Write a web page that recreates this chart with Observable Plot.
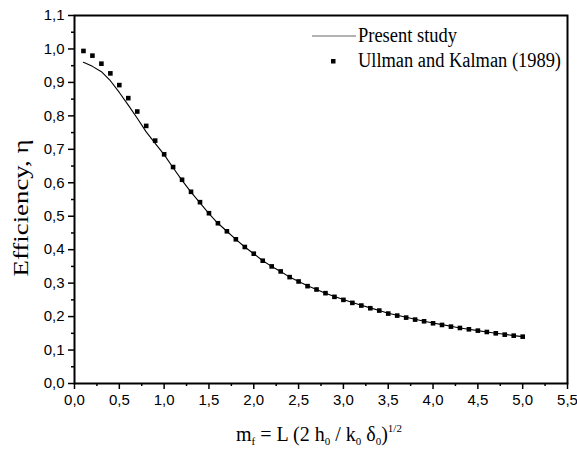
<!DOCTYPE html>
<html><head><meta charset="utf-8">
<script src="https://cdn.jsdelivr.net/npm/d3@7"></script>
<script src="https://cdn.jsdelivr.net/npm/@observablehq/plot@0.6"></script>
<style>body{margin:0;background:#fff}</style>
</head><body><div id="chart"></div>
<script>
// ---- data ----
const mf = [0.1,0.2,0.3,0.4,0.5,0.6,0.7,0.8,0.9,1.0,
            1.1,1.2,1.3,1.4,1.5,1.6,1.7,1.8,1.9,2.0,
            2.1,2.2,2.3,2.4,2.5,2.6,2.7,2.8,2.9,3.0,
            3.1,3.2,3.3,3.4,3.5,3.6,3.7,3.8,3.9,4.0,
            4.1,4.2,4.3,4.4,4.5,4.6,4.7,4.8,4.9,5.0];
const ullmanKalman = [0.994,0.980,0.956,0.927,0.892,0.853,0.813,0.770,0.726,0.685,
                      0.647,0.609,0.573,0.542,0.509,0.479,0.455,0.431,0.408,0.388,
                      0.367,0.350,0.335,0.318,0.305,0.291,0.281,0.270,0.259,0.250,
                      0.241,0.233,0.225,0.218,0.209,0.203,0.197,0.191,0.186,0.180,
                      0.175,0.170,0.166,0.162,0.158,0.154,0.150,0.146,0.143,0.140];
const presentStudy = [0.960,0.948,0.932,0.905,0.870,0.832,0.793,0.752,0.718,0.684,
                      0.645,0.607,0.572,0.540,0.508,0.479,0.455,0.431,0.408,0.388,
                      0.367,0.350,0.335,0.318,0.305,0.292,0.281,0.270,0.260,0.251,
                      0.242,0.234,0.226,0.218,0.210,0.204,0.198,0.192,0.186,0.181,
                      0.176,0.171,0.166,0.162,0.158,0.154,0.150,0.147,0.143,0.140];
const seriesNames = ["Present study", "Ullman and Kalman (1989)"];
const xTicks = [0,0.5,1.0,1.5,2.0,2.5,3.0,3.5,4.0,4.5,5.0,5.5];
const xMinor = [0.25,0.75,1.25,1.75,2.25,2.75,3.25,3.75,4.25,4.75,5.25];
const yTicks = [0,0.1,0.2,0.3,0.4,0.5,0.6,0.7,0.8,0.9,1.0,1.1];
const yMinor = [0.05,0.15,0.25,0.35,0.45,0.55,0.65,0.75,0.85,0.95,1.05];
const yTitle = "Efficiency, η";

const fmt = d => d.toFixed(1).replace(".", ",");
const lineData = mf.map((x, i) => ({x, y: presentStudy[i]}));
const ptData = mf.map((x, i) => ({x, y: ullmanKalman[i]}));

const plot = Plot.plot({
  width: 577, height: 455,
  marginLeft: 74, marginRight: 10, marginTop: 15, marginBottom: 72,
  x: {domain: [0, 5.5]},
  y: {domain: [0, 1.1]},
  style: {fontFamily: "'Liberation Sans', Arial, sans-serif", fontSize: "15px", color: "#000", background: "#fff"},
  marks: [
    Plot.axisX({ticks: xTicks, tickSize: 6, tickPadding: 5, tickFormat: fmt, label: null, strokeWidth: 1.5}),
    Plot.axisX({ticks: xMinor, tickSize: 3, tickFormat: () => "", label: null, strokeWidth: 1.5}),
    Plot.axisY({ticks: yTicks, tickSize: 6, tickPadding: 4, tickFormat: fmt, label: null, strokeWidth: 1.5}),
    Plot.axisY({ticks: yMinor, tickSize: 3, tickFormat: () => "", label: null, strokeWidth: 1.5}),
    Plot.line(lineData, {x: "x", y: "y", stroke: "#000", strokeWidth: 1.1}),
    Plot.dot(ptData, {x: "x", y: "y", symbol: "square", fill: "#000", r: 2.6}),
    Plot.frame({stroke: "#000", strokeWidth: 2})
  ]
});
document.getElementById("chart").appendChild(plot);

const svg = d3.select(plot);
const serif = "'Liberation Serif', 'Times New Roman', serif";
// legend
const lg = svg.append("g").attr("text-anchor", "start");
lg.append("line").attr("x1", 312).attr("x2", 356).attr("y1", 36).attr("y2", 36)
  .attr("stroke", "#666").attr("stroke-width", 1);
lg.append("text").attr("x", 358).attr("y", 42).attr("text-anchor", "start").attr("font-family", serif).attr("font-size", 20)
  .attr("textLength", 99).attr("lengthAdjust", "spacingAndGlyphs").attr("fill", "#000").text(seriesNames[0]);
lg.append("rect").attr("x", 331).attr("y", 59).attr("width", 4.5).attr("height", 4.5).attr("fill", "#000");
lg.append("text").attr("x", 358).attr("y", 67).attr("text-anchor", "start").attr("font-family", serif).attr("font-size", 20)
  .attr("textLength", 203).attr("lengthAdjust", "spacingAndGlyphs").attr("fill", "#000").text(seriesNames[1]);

// y title
svg.append("text").attr("transform", "translate(28,208) rotate(-90)")
  .attr("text-anchor", "middle").attr("font-family", serif).attr("font-size", 22)
  .attr("textLength", 137).attr("lengthAdjust", "spacingAndGlyphs").attr("fill", "#000").text(yTitle);

// x title with sub/superscripts
const xt = svg.append("text").attr("x", 236).attr("y", 441).attr("text-anchor", "start").attr("font-family", serif)
  .attr("font-size", 20).attr("fill", "#000");
const parts = [["m",""],["f","sub"],[" = L (2 h","" ],["0","sub"],[" / k",""],["0","sub"],[" δ",""],["0","sub"],[")",""],["1/2","sup"]];
parts.forEach(([t, k]) => {
  const ts = xt.append("tspan").text(t);
  if (k === "sub") ts.attr("font-size", 11).attr("baseline-shift", "-35%");
  else if (k === "sup") ts.attr("font-size", 11).attr("baseline-shift", "85%");
  else ts.attr("font-size", 20);
});
</script>
</body></html>
